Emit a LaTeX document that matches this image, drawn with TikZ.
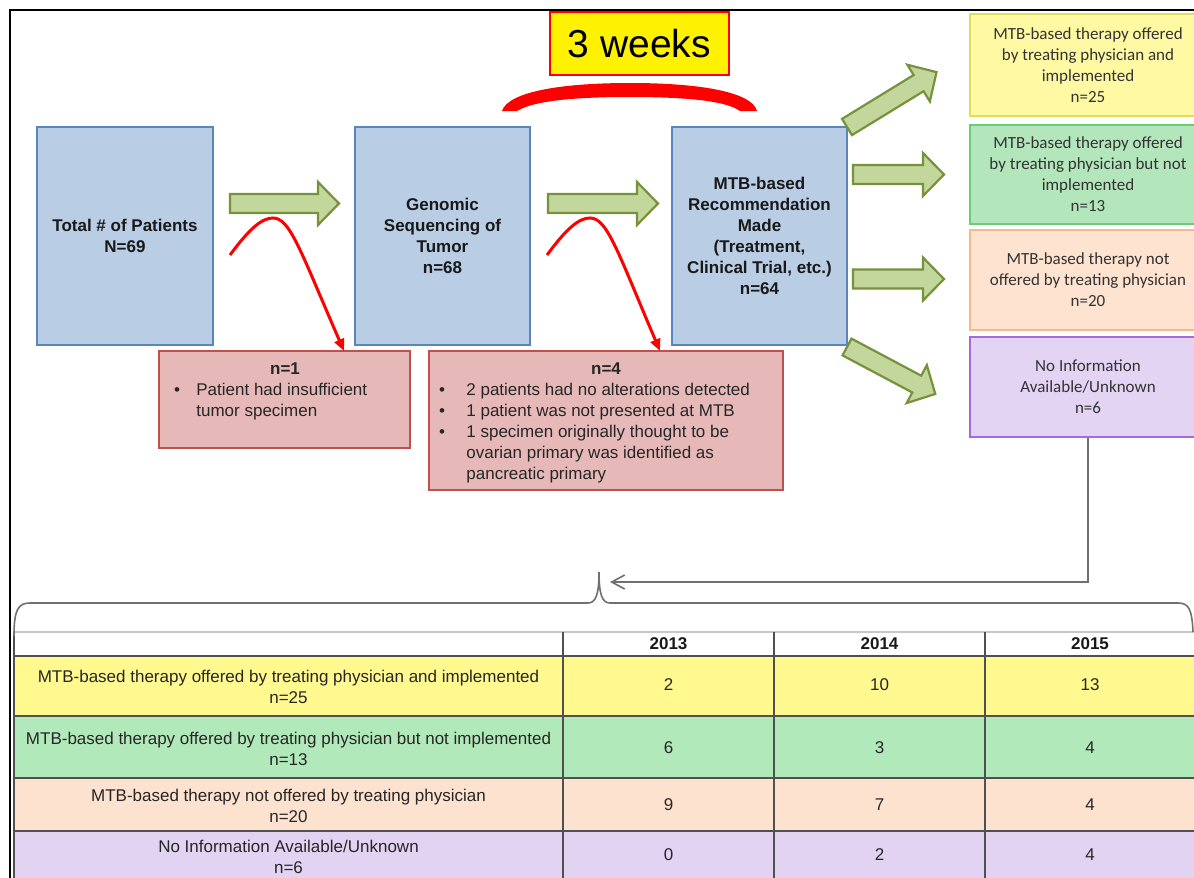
\documentclass[tikz,border=0pt]{standalone}
\usepackage{fontspec}
\setmainfont{Liberation Sans}
\newfontfamily\calibrifont{Carlito}
\usetikzlibrary{arrows.meta,calc}
\definecolor{bluefill}{HTML}{B9CDE5}
\definecolor{bluedraw}{HTML}{5A86BE}
\definecolor{garrowfill}{HTML}{C3D69B}
\definecolor{garrowdraw}{HTML}{76923C}
\definecolor{redfill}{HTML}{E6B9B8}
\definecolor{reddraw}{HTML}{C0504D}
\definecolor{ylwfill}{HTML}{FFF9A3}
\definecolor{ylwdraw}{HTML}{E2DC5C}
\definecolor{grnfill}{HTML}{B3E6BA}
\definecolor{grndraw}{HTML}{6CCB78}
\definecolor{orgfill}{HTML}{FDE3D0}
\definecolor{orgdraw}{HTML}{F4B98E}
\definecolor{purfill}{HTML}{E3D4F4}
\definecolor{purdraw}{HTML}{A56BDB}
\definecolor{tylw}{HTML}{FFF98F}
\definecolor{tgrn}{HTML}{B2E9BA}
\definecolor{torg}{HTML}{FDE2CF}
\definecolor{tpur}{HTML}{E2D3F2}
\definecolor{lgray}{HTML}{707070}
\definecolor{tline}{HTML}{505050}
\newcommand\gblockarrow[4]{%
  \begin{scope}[shift={(#1,#2)},rotate=#3]
    \draw[garrow] (0,-9.5) -- (#4-21,-9.5) -- (#4-21,-21.5) -- (#4,0) -- (#4-21,21.5) -- (#4-21,9.5) -- (0,9.5) -- cycle;
  \end{scope}}
\begin{document}
\begin{tikzpicture}[x=0.5pt,y=-0.5pt,
  bluebox/.style={draw=bluedraw, fill=bluefill, line width=0.9pt, minimum width=88pt, minimum height=109pt, inner sep=0pt, align=center, font=\bfseries\fontsize{8.5}{10.5}\selectfont, text=black!90},
  outbox/.style={line width=0.9pt, minimum width=118pt, inner sep=0pt, align=center, font=\calibrifont\fontsize{8.5}{10.5}\selectfont, text=black!80},
  redbox/.style={draw=reddraw, fill=redfill, line width=0.9pt, inner sep=0pt},
  redtxt/.style={font=\fontsize{8.5}{10.5}\selectfont, inner sep=0pt, text=black!85},
  redtitle/.style={font=\bfseries\fontsize{8.5}{10.5}\selectfont, inner sep=0pt, text=black!85},
  garrow/.style={fill=garrowfill, draw=garrowdraw, line width=1.1pt, line join=miter},
  redcurve/.style={draw=red, line width=1.5pt, -{Triangle[length=6pt,width=5pt]}},
  conn/.style={draw=lgray, line width=0.8pt},
  ttxt/.style={font=\fontsize{8.5}{10.5}\selectfont, inner sep=0pt, align=center, text=black!85},
  thead/.style={font=\bfseries\fontsize{8.5}{10.5}\selectfont, inner sep=0pt, text=black!90}
]
\clip (0,0) rectangle (1194,878);
\fill[white] (0,0) rectangle (1194,878);

% outer frame
\draw[line width=1pt] (10,900) -- (10,10) -- (1210,10);

% 3 weeks label and arc
\node[draw=red, fill=yellow, line width=0.8pt, minimum width=89.5pt, minimum height=31.5pt, inner sep=0pt, font=\fontsize{19.5}{23}\selectfont] (wk) at (639.5,43.5) {3 weeks};
\fill[red] (502,111) .. controls (508,92) and (560,83) .. (630,83) .. controls (700,83) and (752,92) .. (757,111)
  -- (740,111) .. controls (725,100) and (680,97) .. (630,97) .. controls (580,97) and (535,100) .. (517,111) -- cycle;

% blue boxes
\node[bluebox] (b1) at (125,236) {Total \# of Patients\\N=69};
\node[bluebox, minimum width=87.5pt] (b2) at (442.5,236) {Genomic\\Sequencing of\\Tumor\\n=68};
\node[bluebox, minimum width=87.5pt] (b3) at (759.5,236) {MTB-based\\Recommendation\\Made\\(Treatment,\\Clinical Trial, etc.)\\n=64};

% green block arrows
\gblockarrow{230}{203.5}{0}{109}
\gblockarrow{548}{203.5}{0}{110}
\gblockarrow{847}{127}{31.5}{105}
\gblockarrow{853}{174.5}{0}{91}
\gblockarrow{853}{279}{0}{91}
\gblockarrow{847}{347}{-28}{100}

% right outcome boxes
\node[outbox, draw=ylwdraw, fill=ylwfill, minimum height=51pt] (oy) at (1088,65) {MTB-based therapy offered\\by treating physician and\\implemented\\n=25};
\node[outbox, draw=grndraw, fill=grnfill, minimum height=49.5pt] (og) at (1088,174.5) {MTB-based therapy offered\\by treating physician but not\\implemented\\n=13};
\node[outbox, draw=orgdraw, fill=orgfill, minimum height=50pt] (oo) at (1088,280) {MTB-based therapy not\\offered by treating physician\\n=20};
\node[outbox, draw=purdraw, fill=purfill, minimum height=50pt] (op) at (1088,387) {No Information\\Available/Unknown\\n=6};

% red exclusion boxes
\node[redbox, minimum width=125.5pt, minimum height=48.5pt] (r1) at (284.5,399.5) {};
\node[redbox, minimum width=177pt, minimum height=69.5pt] (r2) at (606,420.5) {};
\node[redtitle, anchor=base] (r1t) at (285,374) {n=1};
\node[redtxt, anchor=base] (r1b1) at (177,395) {•};
\node[redtxt, anchor=base west] (r1l1) at (196,395) {Patient had insufficient};
\node[redtxt, anchor=base west] (r1l2) at (196,416) {tumor specimen};
\node[redtitle, anchor=base] (r2t) at (606,374) {n=4};
\node[redtxt, anchor=base] (r2b1) at (442,395) {•};
\node[redtxt, anchor=base] (r2b2) at (442,416) {•};
\node[redtxt, anchor=base] (r2b3) at (442,437) {•};
\node[redtxt, anchor=base west] (r2l1) at (466,395) {2 patients had no alterations detected};
\node[redtxt, anchor=base west] (r2l2) at (466,416) {1 patient was not presented at MTB};
\node[redtxt, anchor=base west] (r2l3) at (466,437) {1 specimen originally thought to be};
\node[redtxt, anchor=base west] (r2l4) at (466,458) {ovarian primary was identified as};
\node[redtxt, anchor=base west] (r2l5) at (466,479) {pancreatic primary};

% red exclusion curves
\coordinate (c1s) at (230,255);
\coordinate (c1e) at (344,351);
\coordinate (c2s) at (547,255);
\coordinate (c2e) at (660,351);
\draw[redcurve] (c1s) .. controls (250,228) and (262,218) .. (273,218) .. controls (290,218) and (300,250) .. (c1e);
\draw[redcurve] (c2s) .. controls (567,228) and (579,218) .. (590,218) .. controls (607,218) and (617,250) .. (c2e);

% table
\fill[tylw] (14,656) rectangle (1194,716);
\fill[tgrn] (14,716) rectangle (1194,778);
\fill[torg] (14,778) rectangle (1194,831);
\fill[tpur] (14,831) rectangle (1194,890);
\draw[draw=black!22, line width=0.7pt] (14,632) -- (1194,632);
\draw[draw=tline, line width=0.6pt] (14,632) -- (14,890);
\draw[draw=tline, line width=0.6pt] (563,632) -- (563,890);
\draw[draw=tline, line width=0.6pt] (774,632) -- (774,890);
\draw[draw=tline, line width=0.6pt] (985,632) -- (985,890);
\draw[draw=tline, line width=1.1pt] (14,656) -- (1194,656);
\draw[draw=tline, line width=0.7pt] (14,716) -- (1194,716);
\draw[draw=tline, line width=0.7pt] (14,778) -- (1194,778);
\draw[draw=tline, line width=0.7pt] (14,831) -- (1194,831);

\node[thead] (h13) at (668.5,644) {2013};
\node[thead] (h14) at (879.5,644) {2014};
\node[thead] (h15) at (1090,644) {2015};

\node[ttxt] (t1) at (288.5,687) {MTB-based therapy offered by treating physician and implemented\\n=25};
\node[ttxt] (t2) at (288.5,749) {MTB-based therapy offered by treating physician but not implemented\\n=13};
\node[ttxt] (t3) at (288.5,806) {MTB-based therapy not offered by treating physician\\n=20};
\node[ttxt] (t4) at (288.5,856.5) {No Information Available/Unknown\\n=6};

\node[ttxt] (v11) at (668.5,685) {2};
\node[ttxt] (v12) at (879.5,685) {10};
\node[ttxt] (v13) at (1090,685) {13};
\node[ttxt] (v21) at (668.5,748) {6};
\node[ttxt] (v22) at (879.5,748) {3};
\node[ttxt] (v23) at (1090,748) {4};
\node[ttxt] (v31) at (668.5,805) {9};
\node[ttxt] (v32) at (879.5,805) {7};
\node[ttxt] (v33) at (1090,805) {4};
\node[ttxt] (v41) at (668.5,855) {0};
\node[ttxt] (v42) at (879.5,855) {2};
\node[ttxt] (v43) at (1090,855) {4};

% brace
\coordinate (brtip) at (599,572);
\draw[conn] (14,636) .. controls (14,610) and (18,603) .. (30,603) -- (588,603)
  .. controls (596,603) and (599,594) .. (brtip) .. controls (599,594) and (602,603) .. (610,603)
  -- (1178,603) .. controls (1188,603) and (1192,608) .. (1193,632);

% connector from unknown box to table
\coordinate (ctip) at (610,582);
\draw[conn, -{Straight Barb[length=6.5pt,width=7pt]}] (op.south) |- (ctip);
\end{tikzpicture}
\end{document}
